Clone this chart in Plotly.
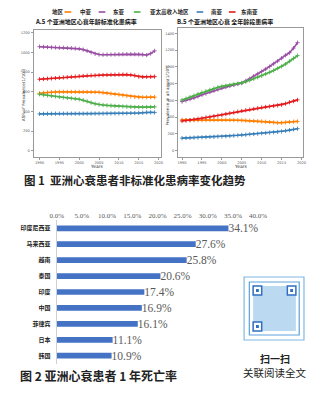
import plotly.graph_objects as go

W, H = 322, 395

years = list(range(1990, 2020))
region_names = ["中亚", "东亚", "亚太高收入地区", "南亚", "东南亚"]
region_colors = ["#FF7F00", "#984EA3", "#4DAF4A", "#377EB8", "#E41A1C"]

# Panel A: age-standardised prevalence (1/10^5)
asr_central_asia = [585, 590, 594, 597, 599, 600, 600, 600, 600, 600, 600, 599, 599, 598, 597, 596,
                    592, 587, 582, 576, 572, 566, 560, 554, 549, 546, 545, 545, 546, 546]
asr_east_asia = [1060, 1058, 1055, 1053, 1052, 1050, 1049, 1047, 1045, 1042, 1038, 1030, 1018, 1002, 988,
                 980, 978, 979, 980, 981, 982, 983, 984, 984, 983, 982, 979, 975, 990, 1017]
asr_hi_asia_pacific = [576, 570, 564, 558, 553, 548, 543, 538, 534, 529, 524, 515, 503, 490, 478, 470,
                       466, 462, 459, 456, 453, 451, 449, 447, 445, 444, 444, 445, 446, 447]
asr_south_asia = [375, 376, 377, 377, 378, 378, 378, 378, 378, 378, 378, 378, 378, 378, 379, 379,
                  379, 380, 380, 381, 381, 382, 382, 383, 384, 385, 387, 391, 391, 390]
asr_southeast_asia = [728, 731, 734, 737, 740, 743, 746, 749, 752, 755, 759, 762, 765, 767, 768, 769,
                      771, 772, 774, 775, 776, 776, 775, 772, 766, 755, 752, 753, 754, 755]

# Panel B: all-age prevalence (1/10^5)
all_central_asia = [368, 366, 365, 364, 364, 364, 365, 366, 367, 368, 368, 368, 367, 366, 364, 362,
                    360, 358, 355, 352, 349, 346, 342, 338, 334, 333, 338, 343, 347, 350]
all_east_asia = [587, 600, 615, 630, 648, 667, 683, 700, 716, 732, 748, 760, 772, 784, 796, 808,
                 834, 860, 890, 918, 946, 975, 1005, 1038, 1070, 1105, 1140, 1170, 1225, 1290]
all_hi_asia_pacific = [605, 622, 640, 658, 677, 695, 710, 726, 742, 756, 768, 776, 784, 792, 800, 808,
                       823, 840, 858, 876, 895, 915, 936, 958, 982, 1006, 1035, 1068, 1102, 1135]
all_south_asia = [150, 152, 154, 156, 158, 160, 162, 164, 166, 168, 170, 173, 176, 180, 184, 188,
                  192, 196, 200, 204, 208, 212, 216, 220, 225, 230, 238, 246, 255, 263]
all_southeast_asia = [355, 360, 366, 373, 380, 388, 396, 404, 412, 420, 428, 437, 447, 456, 466, 475,
                      483, 491, 499, 507, 515, 522, 528, 535, 541, 548, 562, 578, 592, 607]

series_a = [asr_central_asia, asr_east_asia, asr_hi_asia_pacific, asr_south_asia, asr_southeast_asia]
series_b = [all_central_asia, all_east_asia, all_hi_asia_pacific, all_south_asia, all_southeast_asia]

# Figure 2: 1-year mortality (%)
countries = ["印度尼西亚", "马来西亚", "越南", "泰国", "印度", "中国", "菲律宾", "日本", "韩国"]
mortality = [34.1, 27.6, 25.8, 20.6, 17.4, 16.9, 16.1, 11.1, 10.9]
pct_ticks = [0, 5, 10, 15, 20, 25, 30, 35, 40]
pct_ticktext = ["0.0%", "5.0%", "10.0%", "15.0%", "20.0%", "25.0%", "30.0%", "35.0%", "40.0%"]

year_ticks = [1990, 1995, 2000, 2005, 2010, 2015, 2020]
a_ticks = [0, 200, 400, 600, 800, 1000, 1200]
b_ticks = [0, 200, 400, 600, 800, 1000, 1200, 1400]


def px(x):
    return x / W


def py(y):
    return 1 - y / H


CJK = "Noto Sans CJK SC"
SERIF = "Liberation Serif"

fig = go.Figure()

for vals, name, col in zip(series_a, region_names, region_colors):
    fig.add_trace(go.Scatter(x=years, y=vals, name=name, mode="lines+markers",
                             line=dict(color=col, width=1.6),
                             marker=dict(symbol="cross-thin", size=3, color=col,
                                         line=dict(color=col, width=0.9)),
                             xaxis="x", yaxis="y", showlegend=False))
for vals, name, col in zip(series_b, region_names, region_colors):
    fig.add_trace(go.Scatter(x=years, y=vals, name=name, mode="lines+markers",
                             line=dict(color=col, width=1.6),
                             marker=dict(symbol="cross-thin", size=3, color=col,
                                         line=dict(color=col, width=0.9)),
                             xaxis="x2", yaxis="y2", showlegend=False))

fig.add_trace(go.Bar(x=mortality, y=countries, orientation="h",
                     marker=dict(color="#4472C4", line=dict(width=0)),
                     width=0.36,
                     text=[f"{v:.1f}%" for v in mortality], textposition="outside",
                     constraintext="none",
                     textfont=dict(family=SERIF, size=11.5, color="#595959"),
                     cliponaxis=False, xaxis="x3", yaxis="y3", showlegend=False))

tickfont = dict(family="DejaVu Sans", size=3.6, color="#555555")
line_axis = dict(showline=True, mirror=True, linecolor="#9a9a9a", linewidth=1,
                 showgrid=False, zeroline=False, ticks="outside", ticklen=2,
                 tickcolor="#9a9a9a", tickwidth=0.6, tickfont=tickfont)

fig.update_layout(
    width=W, height=H, margin=dict(l=0, r=0, t=0, b=0),
    paper_bgcolor="white", plot_bgcolor="white",
    xaxis=dict(domain=[px(28), px(162)], range=[1988.5, 2020.6], tickvals=year_ticks,
               anchor="y", **line_axis),
    yaxis=dict(domain=[py(157), py(30)], range=[-64, 1230], tickvals=a_ticks,
               anchor="x", **line_axis),
    xaxis2=dict(domain=[px(180), px(312)], range=[1989, 2020.5], tickvals=year_ticks,
                anchor="y2", **line_axis),
    yaxis2=dict(domain=[py(157), py(28)], range=[-75, 1465], tickvals=b_ticks,
                anchor="x2", **line_axis),
    xaxis3=dict(domain=[px(52.3), px(264.3)], range=[0, 40], side="top", anchor="y3",
                tickvals=pct_ticks, ticktext=pct_ticktext, showgrid=False, zeroline=False,
                showline=False, ticks="",
                tickfont=dict(family=SERIF, size=7, color="#595959")),
    yaxis3=dict(domain=[py(363.7), py(220.3)], autorange="reversed", anchor="x3",
                showline=True, linecolor="#d0d0d0", linewidth=1, ticks="",
                showgrid=False, ticklabelstandoff=4,
                tickfont=dict(family=CJK, size=6, color="#222222", weight="bold")),
    bargap=0.6,
)

ann = []
shapes = []


def text_at(x, y, text, font, xanchor="center", **kw):
    ann.append(dict(x=px(x), y=py(y), xref="paper", yref="paper", text=text,
                    xanchor=xanchor, yanchor="middle", showarrow=False, font=font, **kw))


legend_font = dict(family=CJK, size=5.5, color="#222")
# Legend across the top
text_at(54, 12, "<b>地区</b>", legend_font)
leg_x = [(64, 83), (100, 118), (137, 171), (203, 221), (237, 255)]
for (sx, tx), name, col in zip(leg_x, region_names, region_colors):
    shapes.append(dict(type="line", xref="paper", yref="paper", x0=px(sx - 3.5), x1=px(sx + 3.5),
                       y0=py(12), y1=py(12), line=dict(color=col, width=1.6)))
    text_at(tx, 12, f"<b>{name}</b>", legend_font)

# Panel titles
title_font = dict(family=CJK, size=6, color="#111")
text_at(27, 22, "<b>A.5 个亚洲地区心衰年龄标准化患病率</b>", title_font, xanchor="left")
text_at(177, 22, "<b>B.5 个亚洲地区心衰 全年龄段患病率</b>", title_font, xanchor="left")

# Axis titles
axt_font = dict(family="DejaVu Sans", size=4.2, color="#333")
text_at(17, 95, "ASR of Prevalence(1/10<sup>5</sup>)", axt_font, textangle=-90)
text_at(169, 95, "Prevalence in all ages(1/10<sup>5</sup>)", axt_font, textangle=-90)
yrs_font = dict(family="DejaVu Sans", size=4.5, color="#333")
text_at(95, 166, "Years", yrs_font)
text_at(246, 166, "Years", yrs_font)

# Figure captions
text_at(16, 180, "<b>图 1  亚洲心衰患者非标准化患病率变化趋势</b>",
        dict(family=CJK, size=11.5, color="#222"), xanchor="left")
text_at(12, 375, "<b>图 2 亚洲心衰患者 1 年死亡率</b>",
        dict(family=CJK, size=12, color="#222"), xanchor="left")

# QR card
shapes.append(dict(type="rect", xref="paper", yref="paper", x0=px(249.5), x1=px(312.5),
                   y0=py(340), y1=py(277), line=dict(color="#7fb8e6", width=1.2)))
shapes.append(dict(type="rect", xref="paper", yref="paper", x0=px(255), x1=px(307.5),
                   y0=py(335), y1=py(282), line=dict(color="#5aa2dc", width=1.2)))
shapes.append(dict(type="rect", xref="paper", yref="paper", x0=px(259), x1=px(304),
                   y0=py(331), y1=py(286), fillcolor="#bcd9f2", line=dict(width=0)))
for (fx, fy) in [(259, 286), (295, 286), (259, 322)]:
    shapes.append(dict(type="rect", xref="paper", yref="paper", x0=px(fx), x1=px(fx + 9),
                       y0=py(fy + 9), y1=py(fy), fillcolor="white",
                       line=dict(color="#2f6fc0", width=1.5)))
    shapes.append(dict(type="rect", xref="paper", yref="paper", x0=px(fx + 3), x1=px(fx + 6),
                       y0=py(fy + 6), y1=py(fy + 3), fillcolor="#2f6fc0", line=dict(width=0)))
text_at(282, 358.5, "<b>扫一扫</b>", dict(family=CJK, size=10, color="#222"))
text_at(282.5, 372.5, "关联阅读全文", dict(family=CJK, size=10.5, color="#222"))

fig.update_layout(annotations=ann, shapes=shapes)
fig.write_html("out.html")
